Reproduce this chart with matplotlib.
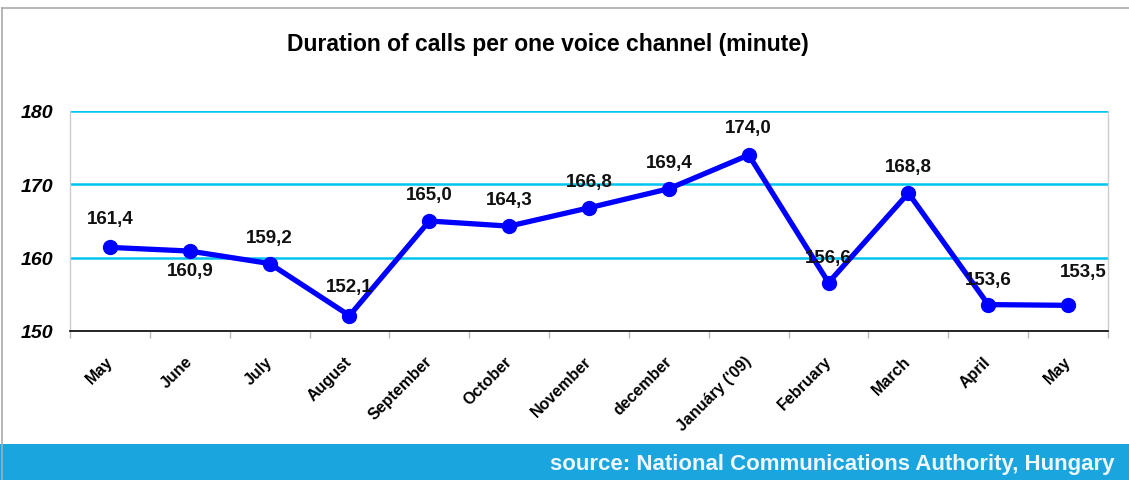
import matplotlib
matplotlib.use("Agg")
import matplotlib.pyplot as plt
from matplotlib.patches import Rectangle
from matplotlib.lines import Line2D
from matplotlib.transforms import ScaledTranslation

months = ["May", "June", "July", "August", "September", "October", "November",
          "december", "Januáry ('09)", "February", "March", "April", "May"]
values = [161.4, 160.9, 159.2, 152.1, 165.0, 164.3, 166.8, 169.4, 174.0,
          156.6, 168.8, 153.6, 153.5]
labels = ["161,4", "160,9", "159,2", "152,1", "165,0", "164,3", "166,8",
          "169,4", "174,0", "156,6", "168,8", "153,6", "153,5"]
yticks = [150, 160, 170, 180]

W, H = 1129, 481
fig = plt.figure(figsize=(W / 100, H / 100), dpi=100)
fig.patch.set_facecolor("white")

# frame lines of the slide
fig.add_artist(Line2D([2 / W, 2 / W], [0, 1 - 9 / H], transform=fig.transFigure,
                      color="#aaaaaa", lw=1.2))
fig.add_artist(Line2D([2 / W, 1], [1 - 9 / H, 1 - 9 / H], transform=fig.transFigure,
                      color="#aaaaaa", lw=1.2))
# bottom band
fig.add_artist(Rectangle((0, 0), 1, 36 / H, transform=fig.transFigure,
                         facecolor="#1aa5de", edgecolor="none"))
fig.text(1114 / W, 16 / H, "source: National Communications Authority, Hungary",
         ha="right", va="center", color="#eef7fb", fontsize=16, fontweight="bold",
         family="Liberation Sans")

left, right, top, bottom = 70, 1108, 112, 332
ax = fig.add_axes([left / W, 1 - bottom / H, (right - left) / W, (bottom - top) / H])
x = list(range(len(months)))
ax.set_xlim(-0.5, len(months) - 0.5)
ax.set_ylim(150, 180)

for v in yticks[1:]:
    ax.axhline(v, color="#00c4f0", lw=1.8, zorder=1)

ax.plot(x, values, color="#0000ff", lw=3.8, marker="o", markersize=10,
        solid_joinstyle="round", zorder=3, clip_on=False)

offsets = [(0, 21), (0, -14), (0, 19), (0, 21), (0, 19), (0, 19), (0, 19),
           (0, 19), (0, 20), (0, 18), (0, 19), (0, 18), (11, 24)]
for xi, v, lab, off in zip(x, values, labels, offsets):
    ax.annotate(lab, (xi, v), xytext=off, textcoords="offset points",
                ha="center", va="center", fontsize=13.5, fontweight="bold",
                family="Liberation Sans", color="#111111", zorder=4)

ax.set_yticks(yticks)
ax.set_yticklabels([str(t) for t in yticks], fontsize=14, fontweight="bold",
                   fontstyle="italic", family="Liberation Sans")
ax.tick_params(axis="y", length=0, pad=12)

ax.set_xticks(x)
ax.set_xticklabels(months, rotation=45, ha="right", rotation_mode="anchor",
                   fontsize=11.5, fontweight="bold", family="Liberation Sans")
ax.tick_params(axis="x", length=0, pad=16)
shift = ScaledTranslation(-5 / 100, 0, fig.dpi_scale_trans)
for t in ax.get_xticklabels():
    t.set_transform(t.get_transform() + shift)
ax.set_xticks([i - 0.5 for i in range(len(months) + 1)], minor=True)
ax.tick_params(axis="x", which="minor", length=5, color="#bbbbbb", width=1)

for s in ["left", "right"]:
    ax.spines[s].set_color("#cccccc")
    ax.spines[s].set_linewidth(1)
ax.spines["top"].set_visible(False)
ax.spines["bottom"].set_color("black")
ax.spines["bottom"].set_linewidth(1.2)

fig.text(548 / W, 1 - 45 / H, "Duration of calls per one voice channel (minute)",
         ha="center", va="center", fontsize=16.5, fontweight="bold",
         family="Liberation Sans")

fig.savefig("out.png", dpi=100)
